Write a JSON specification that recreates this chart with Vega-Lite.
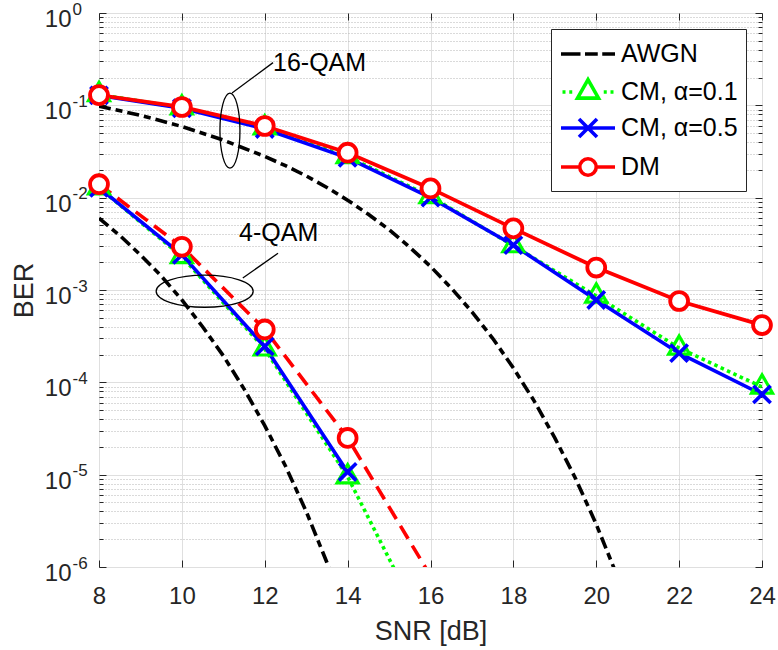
{
  "$schema": "https://vega.github.io/schema/vega-lite/v6.json",
  "width": 663,
  "height": 554,
  "autosize": {"type": "none"},
  "padding": {"left": 99, "top": 13, "right": 16, "bottom": 83},
  "background": "white",
  "config": {
    "view": {"stroke": "#262626", "strokeWidth": 1},
    "font": "Liberation Sans",
    "axis": {
      "labelFont": "Liberation Sans", "titleFont": "Liberation Sans",
      "labelColor": "#262626", "titleColor": "#262626", "titleFontWeight": "normal",
      "domain": false, "labelFontSize": 24, "titleFontSize": 27,
      "gridColor": "#dfdfdf", "gridOpacity": 1, "gridWidth": 1,
      "tickColor": "#262626", "tickWidth": 1,
      "labelFlush": false, "labelOverlap": false
    },
    "legend": {
      "orient": "top-right", "offset": 16, "padding": 8,
      "strokeColor": "#262626", "fillColor": "white", "cornerRadius": 0,
      "labelFont": "Liberation Sans", "labelFontSize": 25, "labelColor": "black",
      "rowPadding": 5, "symbolSize": 900, "symbolStrokeWidth": 3.6, "symbolOpacity": 1,
      "labelOffset": 28, "labelLimit": 400
    }
  },
  "datasets": {
    "ber": [
      {"s": "AWGN", "m": "4-QAM", "x": 8, "y": 0.006},
      {"s": "AWGN", "m": "4-QAM", "x": 8.5, "y": 0.0039},
      {"s": "AWGN", "m": "4-QAM", "x": 9, "y": 0.0024},
      {"s": "AWGN", "m": "4-QAM", "x": 9.5, "y": 0.00142},
      {"s": "AWGN", "m": "4-QAM", "x": 10, "y": 0.00078},
      {"s": "AWGN", "m": "4-QAM", "x": 10.5, "y": 0.0004},
      {"s": "AWGN", "m": "4-QAM", "x": 11, "y": 0.000194},
      {"s": "AWGN", "m": "4-QAM", "x": 11.5, "y": 0.000085},
      {"s": "AWGN", "m": "4-QAM", "x": 12, "y": 0.000034},
      {"s": "AWGN", "m": "4-QAM", "x": 12.5, "y": 0.0000124},
      {"s": "AWGN", "m": "4-QAM", "x": 13, "y": 0.000004},
      {"s": "AWGN", "m": "4-QAM", "x": 13.5, "y": 0.00000112},
      {"s": "AWGN", "m": "4-QAM", "x": 14, "y": 0.00000027},
      {"s": "AWGN", "m": "16-QAM", "x": 8, "y": 0.098},
      {"s": "AWGN", "m": "16-QAM", "x": 9, "y": 0.078},
      {"s": "AWGN", "m": "16-QAM", "x": 10, "y": 0.059},
      {"s": "AWGN", "m": "16-QAM", "x": 11, "y": 0.042},
      {"s": "AWGN", "m": "16-QAM", "x": 12, "y": 0.028},
      {"s": "AWGN", "m": "16-QAM", "x": 12.5, "y": 0.0222},
      {"s": "AWGN", "m": "16-QAM", "x": 13, "y": 0.0172},
      {"s": "AWGN", "m": "16-QAM", "x": 13.5, "y": 0.0129},
      {"s": "AWGN", "m": "16-QAM", "x": 14, "y": 0.0094},
      {"s": "AWGN", "m": "16-QAM", "x": 14.5, "y": 0.0066},
      {"s": "AWGN", "m": "16-QAM", "x": 15, "y": 0.0045},
      {"s": "AWGN", "m": "16-QAM", "x": 15.5, "y": 0.0029},
      {"s": "AWGN", "m": "16-QAM", "x": 16, "y": 0.0018},
      {"s": "AWGN", "m": "16-QAM", "x": 16.5, "y": 0.00105},
      {"s": "AWGN", "m": "16-QAM", "x": 17, "y": 0.00058},
      {"s": "AWGN", "m": "16-QAM", "x": 17.5, "y": 0.0003},
      {"s": "AWGN", "m": "16-QAM", "x": 18, "y": 0.000143},
      {"s": "AWGN", "m": "16-QAM", "x": 18.5, "y": 0.000063},
      {"s": "AWGN", "m": "16-QAM", "x": 19, "y": 0.000025},
      {"s": "AWGN", "m": "16-QAM", "x": 19.5, "y": 0.0000091},
      {"s": "AWGN", "m": "16-QAM", "x": 20, "y": 0.0000029},
      {"s": "AWGN", "m": "16-QAM", "x": 20.5, "y": 0.00000081},
      {"s": "AWGN", "m": "16-QAM", "x": 21, "y": 0.0000002},
      {"s": "CM, α=0.1", "m": "4-QAM", "x": 8, "y": 0.0128},
      {"s": "CM, α=0.1", "m": "4-QAM", "x": 10, "y": 0.0023},
      {"s": "CM, α=0.1", "m": "4-QAM", "x": 12, "y": 0.00023},
      {"s": "CM, α=0.1", "m": "4-QAM", "x": 14, "y": 0.0000095},
      {"s": "CM, α=0.1", "m": "4-QAM", "x": 16, "y": 0.00000016},
      {"s": "CM, α=0.1", "m": "16-QAM", "x": 8, "y": 0.131},
      {"s": "CM, α=0.1", "m": "16-QAM", "x": 10, "y": 0.094},
      {"s": "CM, α=0.1", "m": "16-QAM", "x": 12, "y": 0.057},
      {"s": "CM, α=0.1", "m": "16-QAM", "x": 14, "y": 0.0278},
      {"s": "CM, α=0.1", "m": "16-QAM", "x": 16, "y": 0.0103},
      {"s": "CM, α=0.1", "m": "16-QAM", "x": 18, "y": 0.00302},
      {"s": "CM, α=0.1", "m": "16-QAM", "x": 20, "y": 0.00086},
      {"s": "CM, α=0.1", "m": "16-QAM", "x": 22, "y": 0.000235},
      {"s": "CM, α=0.1", "m": "16-QAM", "x": 24, "y": 0.000089},
      {"s": "CM, α=0.5", "m": "4-QAM", "x": 8, "y": 0.0128},
      {"s": "CM, α=0.5", "m": "4-QAM", "x": 10, "y": 0.0024},
      {"s": "CM, α=0.5", "m": "4-QAM", "x": 12, "y": 0.000245},
      {"s": "CM, α=0.5", "m": "4-QAM", "x": 14, "y": 0.0000107},
      {"s": "CM, α=0.5", "m": "16-QAM", "x": 8, "y": 0.128},
      {"s": "CM, α=0.5", "m": "16-QAM", "x": 10, "y": 0.093},
      {"s": "CM, α=0.5", "m": "16-QAM", "x": 12, "y": 0.0555},
      {"s": "CM, α=0.5", "m": "16-QAM", "x": 14, "y": 0.027},
      {"s": "CM, α=0.5", "m": "16-QAM", "x": 16, "y": 0.01},
      {"s": "CM, α=0.5", "m": "16-QAM", "x": 18, "y": 0.00306},
      {"s": "CM, α=0.5", "m": "16-QAM", "x": 20, "y": 0.00078},
      {"s": "CM, α=0.5", "m": "16-QAM", "x": 22, "y": 0.000207},
      {"s": "CM, α=0.5", "m": "16-QAM", "x": 24, "y": 0.000074},
      {"s": "DM", "m": "4-QAM", "x": 8, "y": 0.014},
      {"s": "DM", "m": "4-QAM", "x": 10, "y": 0.00294},
      {"s": "DM", "m": "4-QAM", "x": 12, "y": 0.000374},
      {"s": "DM", "m": "4-QAM", "x": 14, "y": 0.000025},
      {"s": "DM", "m": "4-QAM", "x": 16, "y": 0.0000008},
      {"s": "DM", "m": "16-QAM", "x": 8, "y": 0.129},
      {"s": "DM", "m": "16-QAM", "x": 10, "y": 0.096},
      {"s": "DM", "m": "16-QAM", "x": 12, "y": 0.0597},
      {"s": "DM", "m": "16-QAM", "x": 14, "y": 0.0307},
      {"s": "DM", "m": "16-QAM", "x": 16, "y": 0.0126},
      {"s": "DM", "m": "16-QAM", "x": 18, "y": 0.00465},
      {"s": "DM", "m": "16-QAM", "x": 20, "y": 0.00175},
      {"s": "DM", "m": "16-QAM", "x": 22, "y": 0.00076},
      {"s": "DM", "m": "16-QAM", "x": 24, "y": 0.000417}
    ],
    "ell": [
      {"id": "16-QAM", "x": 11.16, "y": 0.0533},
      {"id": "4-QAM", "x": 10.55, "y": 0.00097}
    ],
    "lead": [
      {"x": 11.21, "y": 0.136, "x2": 12.2, "y2": 0.29},
      {"x": 11.47, "y": 0.00135, "x2": 12.32, "y2": 0.0025}
    ],
    "lbl": [
      {"t": "16-QAM", "x": 12.2, "y": 0.287},
      {"t": "4-QAM", "x": 11.38, "y": 0.00414}
    ]
  },
  "resolve": {"axis": {"x": "independent", "y": "independent"}},
  "layer": [
    {
      "data": {"name": "ber"},
      "transform": [{"filter": "datum.s == 'AWGN'"}],
      "mark": {"type": "line", "clip": true, "strokeWidth": 3.6, "strokeDash": [12, 5, 7, 5], "color": "#000000"},
      "encoding": {
        "x": {"field": "x", "type": "quantitative", "scale": {"domain": [8, 24], "nice": false, "zero": false},
          "axis": {"orient": "bottom", "values": [8, 10, 12, 14, 16, 18, 20, 22, 24], "ticks": false, "grid": false, "labelPadding": 17, "title": "SNR [dB]", "titlePadding": 10}},
        "y": {"field": "y", "type": "quantitative", "scale": {"type": "log", "domain": [0.000001, 1], "nice": false},
          "axis": {"orient": "left", "values": [0.000001, 0.00001, 0.0001, 0.001, 0.01, 0.1, 1], "ticks": false, "grid": false, "labelExpr": "'10'", "labelPadding": 28, "labelOffset": 6.5, "labelBaseline": "middle", "title": "BER", "titlePadding": 6}},
        "detail": {"field": "m"}
      }
    },
    {
      "data": {"name": "ber"},
      "transform": [{"filter": "datum.s == 'CM, α=0.1'"}],
      "mark": {"type": "line", "clip": true, "strokeWidth": 3.6, "strokeDash": [3.5, 3.5], "color": "#00ff00"},
      "encoding": {
        "x": {"field": "x", "type": "quantitative", "scale": {"domain": [8, 24], "nice": false, "zero": false},
          "axis": {"orient": "bottom", "values": [8, 10, 12, 14, 16, 18, 20, 22, 24], "grid": true, "tickSize": -7, "labels": false, "title": null}},
        "y": {"field": "y", "type": "quantitative", "scale": {"type": "log", "domain": [0.000001, 1], "nice": false},
          "axis": {"orient": "left", "values": [0.000001, 0.00001, 0.0001, 0.001, 0.01, 0.1, 1], "ticks": false, "grid": false, "labelExpr": "'' + round(log(datum.value)/LN10)", "labelAlign": "left", "labelBaseline": "alphabetic", "labelPadding": 27, "labelOffset": 1, "labelFontSize": 17, "title": null}},
        "detail": {"field": "m"}
      }
    },
    {
      "data": {"name": "ber"},
      "transform": [{"filter": "datum.s == 'CM, α=0.5'"}],
      "mark": {"type": "line", "clip": true, "strokeWidth": 3.6, "color": "#0000ff"},
      "encoding": {
        "x": {"field": "x", "type": "quantitative", "scale": {"domain": [8, 24], "nice": false, "zero": false},
          "axis": {"orient": "top", "values": [8, 10, 12, 14, 16, 18, 20, 22, 24], "grid": false, "tickSize": -7, "labels": false, "title": null}},
        "y": {"field": "y", "type": "quantitative", "scale": {"type": "log", "domain": [0.000001, 1], "nice": false},
          "axis": {"orient": "left", "values": [0.000001, 0.00001, 0.0001, 0.001, 0.01, 0.1, 1], "grid": true, "tickSize": -7, "labels": false, "title": null}},
        "detail": {"field": "m"}
      }
    },
    {
      "data": {"name": "ber"},
      "transform": [{"filter": "datum.s == 'DM' && datum.m == '16-QAM'"}],
      "mark": {"type": "line", "clip": true, "strokeWidth": 3.8, "color": "#ff0000"},
      "encoding": {
        "x": {"field": "x", "type": "quantitative", "scale": {"domain": [8, 24], "nice": false, "zero": false}, "axis": null},
        "y": {"field": "y", "type": "quantitative", "scale": {"type": "log", "domain": [0.000001, 1], "nice": false},
          "axis": {"orient": "left", "values": [0.000002, 0.000003, 0.000004, 0.000005, 0.000006, 0.000007, 0.000008, 0.000009, 0.00002, 0.00003, 0.00004, 0.00005, 0.00006, 0.00007, 0.00008, 0.00009, 0.0002, 0.0003, 0.0004, 0.0005, 0.0006, 0.0007, 0.0008, 0.0009, 0.002, 0.003, 0.004, 0.005, 0.006, 0.007, 0.008, 0.009, 0.02, 0.03, 0.04, 0.05, 0.06, 0.07, 0.08, 0.09, 0.2, 0.3, 0.4, 0.5, 0.6, 0.7, 0.8, 0.9], "grid": true, "gridColor": "#b4b4b4", "gridDash": [1, 2], "tickSize": -4, "labels": false, "title": null}}
      }
    },
    {
      "data": {"name": "ber"},
      "transform": [{"filter": "datum.s == 'DM' && datum.m == '4-QAM'"}],
      "mark": {"type": "line", "clip": true, "strokeWidth": 3.6, "strokeDash": [15, 8], "color": "#ff0000"},
      "encoding": {
        "x": {"field": "x", "type": "quantitative", "scale": {"domain": [8, 24], "nice": false, "zero": false}, "axis": null},
        "y": {"field": "y", "type": "quantitative", "scale": {"type": "log", "domain": [0.000001, 1], "nice": false},
          "axis": {"orient": "right", "values": [0.000001, 0.00001, 0.0001, 0.001, 0.01, 0.1, 1], "grid": false, "tickSize": -7, "labels": false, "title": null}}
      }
    },
    {
      "data": {"name": "ber"},
      "transform": [{"filter": "datum.s == 'CM, α=0.1' && datum.y >= 0.000001"}],
      "mark": {"type": "point", "shape": "M0,-1.155L1,0.577L-1,0.577Z", "size": 441, "filled": false, "stroke": "#00ff00", "strokeWidth": 3.2, "opacity": 1},
      "encoding": {
        "x": {"field": "x", "type": "quantitative", "scale": {"domain": [8, 24], "nice": false, "zero": false}, "axis": null},
        "y": {"field": "y", "type": "quantitative", "scale": {"type": "log", "domain": [0.000001, 1], "nice": false},
          "axis": {"orient": "right", "values": [0.000002, 0.000003, 0.000004, 0.000005, 0.000006, 0.000007, 0.000008, 0.000009, 0.00002, 0.00003, 0.00004, 0.00005, 0.00006, 0.00007, 0.00008, 0.00009, 0.0002, 0.0003, 0.0004, 0.0005, 0.0006, 0.0007, 0.0008, 0.0009, 0.002, 0.003, 0.004, 0.005, 0.006, 0.007, 0.008, 0.009, 0.02, 0.03, 0.04, 0.05, 0.06, 0.07, 0.08, 0.09, 0.2, 0.3, 0.4, 0.5, 0.6, 0.7, 0.8, 0.9], "grid": false, "tickSize": -4, "labels": false, "title": null}}
      }
    },
    {
      "data": {"name": "ber"},
      "transform": [{"filter": "datum.s == 'CM, α=0.5' && datum.y >= 0.000001"}],
      "mark": {"type": "point", "shape": "M-1,-1L1,1M-1,1L1,-1", "size": 300, "filled": false, "stroke": "#0000ff", "strokeWidth": 3.6, "opacity": 1},
      "encoding": {
        "x": {"field": "x", "type": "quantitative", "scale": {"domain": [8, 24], "nice": false, "zero": false}, "axis": null},
        "y": {"field": "y", "type": "quantitative", "scale": {"type": "log", "domain": [0.000001, 1], "nice": false}, "axis": null}
      }
    },
    {
      "data": {"name": "ber"},
      "transform": [{"filter": "datum.s == 'DM' && datum.y >= 0.000001"}],
      "mark": {"type": "point", "shape": "circle", "size": 320, "filled": false, "fill": "white", "fillOpacity": 1, "stroke": "#ff0000", "strokeWidth": 3.8, "opacity": 1},
      "encoding": {
        "x": {"field": "x", "type": "quantitative", "scale": {"domain": [8, 24], "nice": false, "zero": false}, "axis": null},
        "y": {"field": "y", "type": "quantitative", "scale": {"type": "log", "domain": [0.000001, 1], "nice": false}, "axis": null}
      }
    },
    {
      "data": {"name": "ell"},
      "transform": [{"filter": "datum.id == '16-QAM'"}],
      "mark": {"type": "point", "shape": "M0.267,0C0.267,0.5523 0.1475,1 0,1C-0.1475,1 -0.267,0.5523 -0.267,0C-0.267,-0.5523 -0.1475,-1 0,-1C0.1475,-1 0.267,-0.5523 0.267,0Z", "size": 5625, "filled": false, "stroke": "black", "strokeWidth": 1.3, "opacity": 1},
      "encoding": {
        "x": {"field": "x", "type": "quantitative", "scale": {"domain": [8, 24], "nice": false, "zero": false}, "axis": null},
        "y": {"field": "y", "type": "quantitative", "scale": {"type": "log", "domain": [0.000001, 1], "nice": false}, "axis": null}
      }
    },
    {
      "data": {"name": "ell"},
      "transform": [{"filter": "datum.id == '4-QAM'"}],
      "mark": {"type": "point", "shape": "M1,0C1,0.1823 0.5523,0.33 0,0.33C-0.5523,0.33 -1,0.1823 -1,0C-1,-0.1823 -0.5523,-0.33 0,-0.33C0.5523,-0.33 1,-0.1823 1,0Z", "size": 9409, "filled": false, "stroke": "black", "strokeWidth": 1.3, "opacity": 1},
      "encoding": {
        "x": {"field": "x", "type": "quantitative", "scale": {"domain": [8, 24], "nice": false, "zero": false}, "axis": null},
        "y": {"field": "y", "type": "quantitative", "scale": {"type": "log", "domain": [0.000001, 1], "nice": false}, "axis": null}
      }
    },
    {
      "data": {"name": "lead"},
      "mark": {"type": "rule", "stroke": "black", "strokeWidth": 1.3},
      "encoding": {
        "x": {"field": "x", "type": "quantitative", "scale": {"domain": [8, 24], "nice": false, "zero": false}, "axis": null},
        "y": {"field": "y", "type": "quantitative", "scale": {"type": "log", "domain": [0.000001, 1], "nice": false}, "axis": null},
        "x2": {"field": "x2"},
        "y2": {"field": "y2"}
      }
    },
    {
      "data": {"name": "lbl"},
      "mark": {"type": "text", "align": "left", "baseline": "middle", "font": "Liberation Sans", "fontSize": 25, "color": "black"},
      "encoding": {
        "x": {"field": "x", "type": "quantitative", "scale": {"domain": [8, 24], "nice": false, "zero": false}, "axis": null},
        "y": {"field": "y", "type": "quantitative", "scale": {"type": "log", "domain": [0.000001, 1], "nice": false}, "axis": null},
        "text": {"field": "t"}
      }
    },
    {
      "data": {"name": "ber"},
      "transform": [{"filter": "false"}],
      "mark": {"type": "point", "filled": false, "strokeWidth": 3.6},
      "encoding": {
        "x": {"field": "x", "type": "quantitative", "scale": {"domain": [8, 24], "nice": false, "zero": false}, "axis": null},
        "y": {"field": "y", "type": "quantitative", "scale": {"type": "log", "domain": [0.000001, 1], "nice": false}, "axis": null},
        "color": {"field": "s", "type": "nominal",
          "scale": {"domain": ["AWGN", "CM, α=0.1", "CM, α=0.5", "DM"], "range": ["#000000", "#00ff00", "#0000ff", "#ff0000"]},
          "legend": {"title": null}},
        "shape": {"field": "s", "type": "nominal",
          "scale": {"domain": ["AWGN", "CM, α=0.1", "CM, α=0.5", "DM"], "range": [
            "M-1,0L0.3,0M0.6,0L1.45,0M1.75,0L2.6,0",
            "M-0.9,0L-0.7,0M-0.45,0L-0.25,0M1.85,0L2.05,0M2.3,0L2.5,0M0.8,-0.82L1.5,0.41L0.1,0.41Z",
            "M-1,0L2.6,0M0.2,-0.6L1.4,0.6M0.2,0.6L1.4,-0.6",
            "M-1,0L0.25,0M1.35,0L2.6,0M1.35,0C1.35,0.3038 1.1038,0.55 0.8,0.55C0.4962,0.55 0.25,0.3038 0.25,0C0.25,-0.3038 0.4962,-0.55 0.8,-0.55C1.1038,-0.55 1.35,-0.3038 1.35,0Z"
          ]},
          "legend": {"title": null}}
      }
    }
  ]
}
